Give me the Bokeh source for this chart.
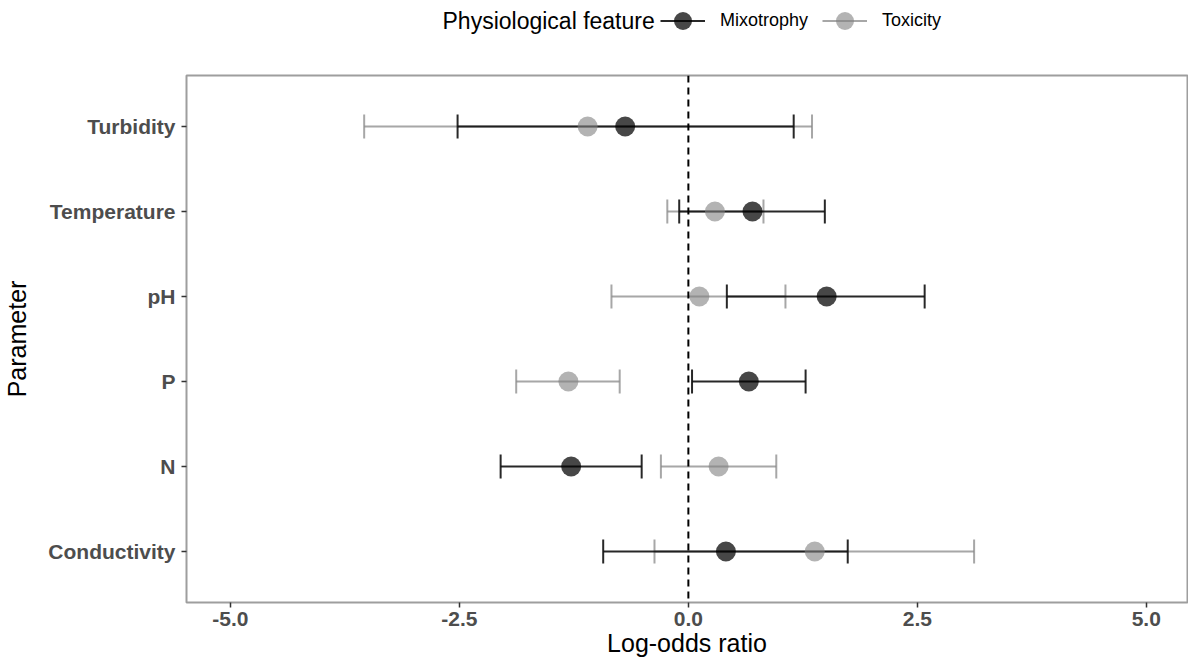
import math
from bokeh.plotting import figure
from bokeh.layouts import column
from bokeh.models import (ColumnDataSource, FactorRange, Range1d, Span, Legend,
                          LegendItem, Label, FixedTicker, NumeralTickFormatter)
from bokeh.embed import file_html
from bokeh.resources import INLINE

# ---- data ----
params = ["Turbidity", "Temperature", "pH", "P", "N", "Conductivity"]
mix_est = [-0.69, 0.70, 1.51, 0.66, -1.28, 0.41]
mix_lo = [-2.52, -0.10, 0.42, 0.04, -2.05, -0.93]
mix_hi = [1.15, 1.49, 2.58, 1.28, -0.51, 1.74]
tox_est = [-1.10, 0.29, 0.12, -1.31, 0.33, 1.38]
tox_lo = [-3.54, -0.23, -0.84, -1.88, -0.30, -0.37]
tox_hi = [1.35, 0.82, 1.06, -0.75, 0.96, 3.12]
x_ticks = [-5.0, -2.5, 0.0, 2.5, 5.0]

FONT = "Liberation Sans"
MIX_LINE = "#111111"
MIX_FILL = "#000000"
TOX_LINE = "#8a8a8a"
TOX_FILL = "#808080"

factors_bottom_up = list(reversed(params))
x_range = Range1d(-5.48, 5.45)
y_range = FactorRange(factors=factors_bottom_up, range_padding=0.1,
                      range_padding_units="absolute")

src_mix = ColumnDataSource(dict(param=params, est=mix_est, lo=mix_lo, hi=mix_hi))
src_tox = ColumnDataSource(dict(param=params, est=tox_est, lo=tox_lo, hi=tox_hi))
cap_mix = ColumnDataSource(dict(param=params + params, x=mix_lo + mix_hi))
cap_tox = ColumnDataSource(dict(param=params + params, x=tox_lo + tox_hi))

# ---------------- main panel ----------------
p = figure(width=1188, height=589, x_range=x_range, y_range=y_range,
           output_backend="svg", toolbar_location=None,
           min_border_left=186, min_border_right=1,
           min_border_top=1, min_border_bottom=61)
p.background_fill_color = "white"
p.border_fill_color = "white"
p.outline_line_color = "#9e9e9e"
p.outline_line_width = 2
p.grid.visible = False

p.add_layout(Span(location=0, dimension="height", line_color="black",
                  line_width=2, line_dash="7 5"))

# error bars
p.segment(x0="lo", y0="param", x1="hi", y1="param", source=src_tox,
          line_color=TOX_LINE, line_alpha=0.75, line_width=2)
p.scatter(x="x", y="param", source=cap_tox, marker="dash", angle=math.pi / 2,
          size=24, line_color=TOX_LINE, line_alpha=0.75, line_width=2)
p.segment(x0="lo", y0="param", x1="hi", y1="param", source=src_mix,
          line_color=MIX_LINE, line_alpha=0.9, line_width=2)
p.scatter(x="x", y="param", source=cap_mix, marker="dash", angle=math.pi / 2,
          size=24, line_color=MIX_LINE, line_alpha=0.9, line_width=2)

# points
p.scatter(x="est", y="param", source=src_tox, size=20,
          fill_color=TOX_FILL, fill_alpha=0.6, line_color=None)
p.scatter(x="est", y="param", source=src_mix, size=20,
          fill_color=MIX_FILL, fill_alpha=0.72, line_color=None)

# axes
for ax in (p.xaxis[0], p.yaxis[0]):
    ax.axis_line_color = None
    ax.major_tick_in = 0
    ax.major_tick_out = 5
    ax.major_tick_line_color = "#333333"
    ax.major_tick_line_width = 1.5
    ax.minor_tick_line_color = None
    ax.major_label_text_font = FONT
    ax.major_label_text_font_size = "21px"
    ax.major_label_text_font_style = "bold"
    ax.major_label_text_color = "#4d4d4d"
    ax.axis_label_text_font = FONT
    ax.axis_label_text_font_size = "25px"
    ax.axis_label_text_font_style = "normal"
    ax.axis_label_text_color = "black"

p.xaxis.ticker = FixedTicker(ticks=x_ticks)
p.xaxis.formatter = NumeralTickFormatter(format="0.0")
p.xaxis.axis_label = "Log-odds ratio"
p.xaxis.major_label_standoff = 4
p.xaxis.axis_label_standoff = 0
p.yaxis.axis_label = "Parameter"
p.yaxis.major_label_standoff = 6
p.yaxis.axis_label_standoff = 14

# ---------------- legend strip (ggplot-style legend above the panel) ----------------
top = figure(width=1188, height=74, x_range=x_range, y_range=y_range,
             output_backend="svg", toolbar_location=None,
             x_axis_location=None, y_axis_location=None,
             min_border=0)
top.outline_line_color = None
top.grid.visible = False
top.background_fill_color = "white"
top.border_fill_color = "white"

lg_mix_seg = top.segment(x0="lo", y0="param", x1="hi", y1="param", source=src_mix,
                         line_color=MIX_LINE, line_alpha=0.9, line_width=2)
lg_mix_pts = top.scatter(x="est", y="param", source=src_mix,
                         fill_color=MIX_FILL, fill_alpha=0.72, line_color=None)
lg_tox_seg = top.segment(x0="lo", y0="param", x1="hi", y1="param", source=src_tox,
                         line_color=TOX_LINE, line_alpha=0.75, line_width=2)
lg_tox_pts = top.scatter(x="est", y="param", source=src_tox,
                         fill_color=TOX_FILL, fill_alpha=0.6, line_color=None)
for r in (lg_mix_seg, lg_mix_pts, lg_tox_seg, lg_tox_pts):
    r.visible = False

# the strip's frame is aligned with the main frame (starts at x=186)
legend = Legend(items=[LegendItem(label="Mixotrophy", renderers=[lg_mix_seg, lg_mix_pts]),
                       LegendItem(label="Toxicity", renderers=[lg_tox_seg, lg_tox_pts])],
                orientation="horizontal", location=(474, 31),
                glyph_width=45, glyph_height=45, label_standoff=15, spacing=14,
                padding=0, margin=0, border_line_color=None,
                background_fill_alpha=0, click_policy="none",
                label_text_font=FONT, label_text_font_size="18px",
                label_text_color="black")
top.add_layout(legend)
top.add_layout(Label(x=256, y=54, x_units="screen", y_units="screen",
                     text="Physiological feature", text_font=FONT,
                     text_font_size="23px", text_color="black",
                     text_align="left", text_baseline="middle"))

layout = column(top, p, spacing=0)
open("out.html", "w").write(file_html(layout, INLINE))
